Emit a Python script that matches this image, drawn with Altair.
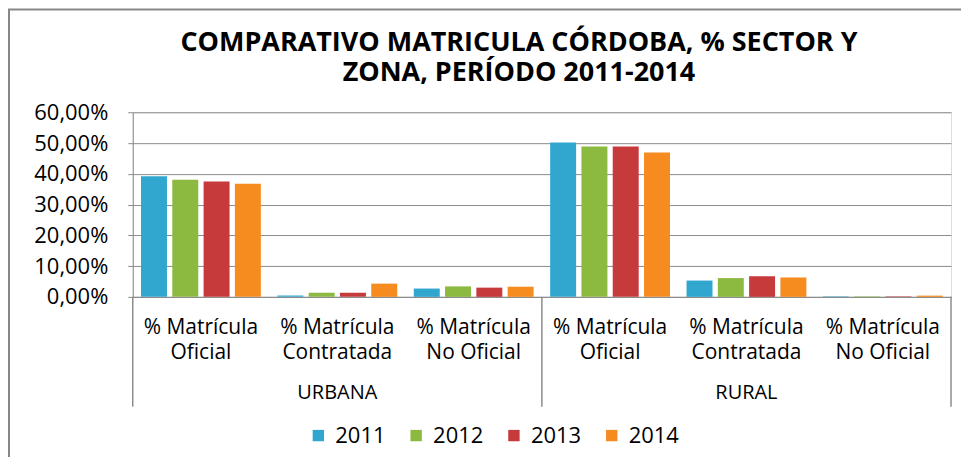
import altair as alt
import pandas as pd

# ---- data ----
zones = ["URBANA", "RURAL"]
sectors = ["Oficial", "Contratada", "No Oficial"]
label_prefix = "% Matrícula"
years = ["2011", "2012", "2013", "2014"]
# order: URBANA Oficial, Contratada, No Oficial, RURAL Oficial, Contratada, No Oficial (percent)
v2011 = [39.2, 0.45, 2.7, 50.2, 5.3, 0.15]
v2012 = [38.1, 1.3, 3.4, 48.9, 6.1, 0.15]
v2013 = [37.5, 1.3, 3.0, 48.9, 6.7, 0.15]
v2014 = [36.8, 4.3, 3.3, 46.9, 6.3, 0.4]
y_ticks = [0, 0.1, 0.2, 0.3, 0.4, 0.5, 0.6]
colors = ["#31A7CF", "#8CB93F", "#C63A3C", "#F68B20"]

series = {"2011": v2011, "2012": v2012, "2013": v2013, "2014": v2014}
keys = [f"{z}|{s}" for z in zones for s in sectors]
rows = []
for yr in years:
    for k, v in zip(keys, series[yr]):
        rows.append({"key": k, "year": yr, "value": v / 100})
df = pd.DataFrame(rows)

zone_df = pd.DataFrame({"key": [f"{z}|{sectors[1]}" for z in zones], "zone": zones})

W, H = 820, 185
FONT = "Open Sans"
GRAY = "#8c8c8c"

xscale = alt.Scale(domain=keys, paddingInner=0.08, paddingOuter=0.04)
x_enc = alt.X(
    "key:N",
    scale=xscale,
    sort=keys,
    axis=alt.Axis(
        title=None,
        labelExpr=f"['{label_prefix}', split(datum.label, '|')[1]]",
        labelAngle=0,
        ticks=False,
        grid=False,
        domainColor=GRAY,
        labelFontSize=21,
        labelColor="#000",
        labelPadding=20,
        labelLineHeight=25,
        labelOverlap=False,
        labelLimit=300,
        labelFont=FONT,
    ),
)

bars = alt.Chart(df).mark_bar().encode(
    x=x_enc,
    xOffset=alt.XOffset("year:N", sort=years,
                        scale=alt.Scale(domain=years, paddingInner=0.17, paddingOuter=0.09)),
    y=alt.Y(
        "value:Q",
        scale=alt.Scale(domain=[0, 0.6]),
        axis=alt.Axis(
            title=None,
            values=y_ticks,
            labelExpr="replace(format(datum.value, '.2%'), '.', ',')",
            labelFontSize=22,
            labelColor="#000",
            labelFont=FONT,
            labelPadding=20,
            tickColor=GRAY,
            tickSize=5,
            domainColor=GRAY,
            gridColor=GRAY,
            gridWidth=1,
        ),
    ),
    color=alt.Color(
        "year:N",
        sort=years,
        scale=alt.Scale(domain=years, range=colors),
        legend=alt.Legend(
            title=None,
            orient="none",
            direction="horizontal",
            legendX=175,
            legendY=313,
            symbolType="square",
            symbolSize=130,
            symbolStrokeWidth=0,
            labelFontSize=22,
            labelFont=FONT,
            labelColor="#000",
            labelOffset=6,
            columnPadding=19,
            padding=0,
        ),
    ),
)

group_labels = alt.Chart(zone_df).mark_text(
    fontSize=20, font=FONT, color="#000", baseline="middle"
).encode(x=x_enc, y=alt.value(H + 96), text="zone:N")

dummy = pd.DataFrame({"d": [0]})
seps = [
    alt.Chart(dummy).mark_rule(color=GRAY, strokeWidth=1.5).encode(
        x=alt.value(p), y=alt.value(H), y2=alt.value(H + 110)
    )
    for p in [0, W / 2, W]
]

border = alt.Chart(dummy).mark_rect(filled=False, stroke="#878787", strokeWidth=2).encode(
    x=alt.value(-124), x2=alt.value(W + 60), y=alt.value(-103), y2=alt.value(H + 220)
)

chart = alt.layer(border, bars, group_labels, *seps).properties(
    width=W,
    height=H,
    autosize=alt.AutoSizeParams(type="none"),
    padding={"left": 125, "top": 104, "right": 10, "bottom": 160},
    title=alt.TitleParams(
        text=["COMPARATIVO MATRICULA CÓRDOBA, %  SECTOR Y", "ZONA, PERÍODO 2011-2014"],
        fontSize=27,
        fontWeight="bold",
        font=FONT,
        color="#000",
        anchor="middle",
        dx=-23,
        dy=89,
        lineHeight=30,
        offset=10,
    ),
).configure_view(stroke=None).configure(background="white")

chart.save("out.html", embed_options={"renderer": "svg", "actions": False})
